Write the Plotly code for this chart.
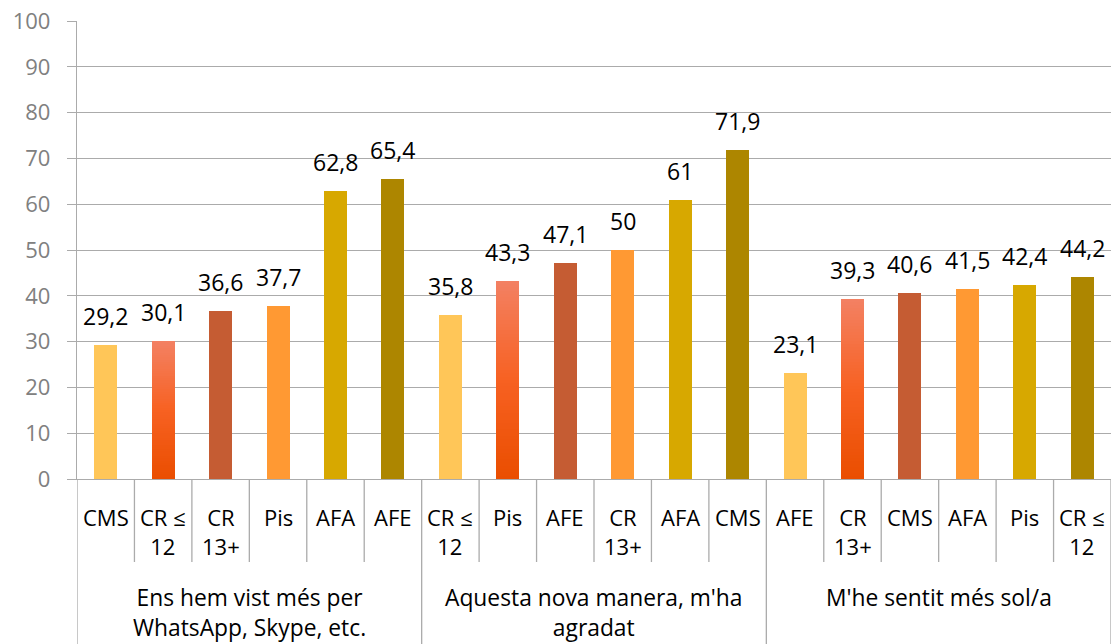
import plotly.graph_objects as go

# ---- data ----
groups = ["Ens hem vist més per<br>WhatsApp, Skype, etc.",
          "Aquesta nova manera, m'ha<br>agradat",
          "M'he sentit més sol/a"]
labels_g1 = ["CMS", "CR ≤ 12", "CR 13+", "Pis", "AFA", "AFE"]
values_g1 = [29.2, 30.1, 36.6, 37.7, 62.8, 65.4]
labels_g2 = ["CR ≤ 12", "Pis", "AFE", "CR 13+", "AFA", "CMS"]
values_g2 = [35.8, 43.3, 47.1, 50, 61, 71.9]
labels_g3 = ["AFE", "CR 13+", "CMS", "AFA", "Pis", "CR ≤ 12"]
values_g3 = [23.1, 39.3, 40.6, 41.5, 42.4, 44.2]
y_ticks = [0, 10, 20, 30, 40, 50, 60, 70, 80, 90, 100]

# colours by position within group (index 1 is a gradient)
pos_colors = ["#FFC658", None, "#C55C33", "#FF9933", "#D7A800", "#AD8600"]
grad_stops = [(0.0, (234, 78, 0)), (0.5, (247, 97, 34)), (1.0, (243, 129, 99))]

FONT = "Open Sans"
GRID = "#ABABAB"

all_labels = labels_g1 + labels_g2 + labels_g3
all_values = values_g1 + values_g2 + values_g3
n_per = len(labels_g1)
xs = list(range(len(all_values)))


def grad_color(f):
    for (f0, c0), (f1, c1) in zip(grad_stops[:-1], grad_stops[1:]):
        if f <= f1:
            t = (f - f0) / (f1 - f0) if f1 > f0 else 0
            return "rgb(%d,%d,%d)" % tuple(round(a + (b - a) * t) for a, b in zip(c0, c1))
    return "rgb(%d,%d,%d)" % grad_stops[-1][1]


def fmt(v):
    return str(int(v)) if float(v).is_integer() else str(v).replace(".", ",")


def wrap(lbl):
    return "<br>".join(lbl.rsplit(" ", 1)) if " " in lbl else lbl


fig = go.Figure()

# solid bars
for p, col in enumerate(pos_colors):
    if col is None:
        continue
    px = [x for x in xs if x % n_per == p]
    fig.add_trace(go.Bar(x=px, y=[all_values[x] for x in px], width=0.4,
                         marker=dict(color=col, line=dict(width=0)),
                         showlegend=False, hoverinfo="skip"))

# gradient bars (overlaid shrinking bars)
gp = [x for x in xs if x % n_per == 1]
N = 60
for k in range(N, 0, -1):
    f = k / N
    fig.add_trace(go.Bar(x=gp, y=[all_values[x] * f for x in gp], width=0.4,
                         marker=dict(color=grad_color(f - 0.5 / N), line=dict(width=0)),
                         showlegend=False, hoverinfo="skip"))

annotations = []
# data labels
for x, v in zip(xs, all_values):
    annotations.append(dict(x=x, y=v, xref="x", yref="y", text=fmt(v), showarrow=False,
                            yanchor="bottom", yshift=11,
                            font=dict(family=FONT, size=23, color="#000000")))
# category labels
for x, lbl in zip(xs, all_labels):
    annotations.append(dict(x=x, y=0, xref="x", yref="paper", text=wrap(lbl), showarrow=False,
                            yanchor="top", yshift=-21,
                            font=dict(family=FONT, size=22, color="#000000")))
# group labels
for g, name in enumerate(groups):
    annotations.append(dict(x=g * n_per + (n_per - 1) / 2, y=0, xref="x", yref="paper", text=name,
                            showarrow=False, yanchor="top", yshift=-101,
                            font=dict(family=FONT, size=22.8, color="#000000")))

plot_h = 644 - 21 - 165
shapes = []
for i in range(len(xs) + 1):
    depth = 165 if i % n_per == 0 else 83
    shapes.append(dict(type="line", xref="x", yref="paper", x0=i - 0.5, x1=i - 0.5,
                       y0=0, y1=-depth / plot_h, line=dict(color=GRID, width=1.3)))

fig.update_layout(
    width=1112, height=644,
    margin=dict(l=77, r=1, t=21, b=165),
    paper_bgcolor="white", plot_bgcolor="white",
    barmode="overlay", bargap=0,
    annotations=annotations, shapes=shapes,
    xaxis=dict(range=[-0.5, len(xs) - 0.5], showticklabels=False, showgrid=False,
               zeroline=False, showline=True, linecolor=GRID, linewidth=1.3, ticks=""),
    yaxis=dict(range=[0, 100], tickvals=y_ticks, showgrid=True, gridcolor=GRID, gridwidth=1.3,
               zeroline=False, showline=True, linecolor=GRID, linewidth=1.3,
               ticks="outside", ticklen=9, tickcolor=GRID, tickwidth=1.3,
               ticklabelstandoff=12,
               tickfont=dict(family=FONT, size=22, color="#808080")),
)

fig.write_html("out.html", config={"displayModeBar": False},
               post_script="document.body.style.margin='0';")
